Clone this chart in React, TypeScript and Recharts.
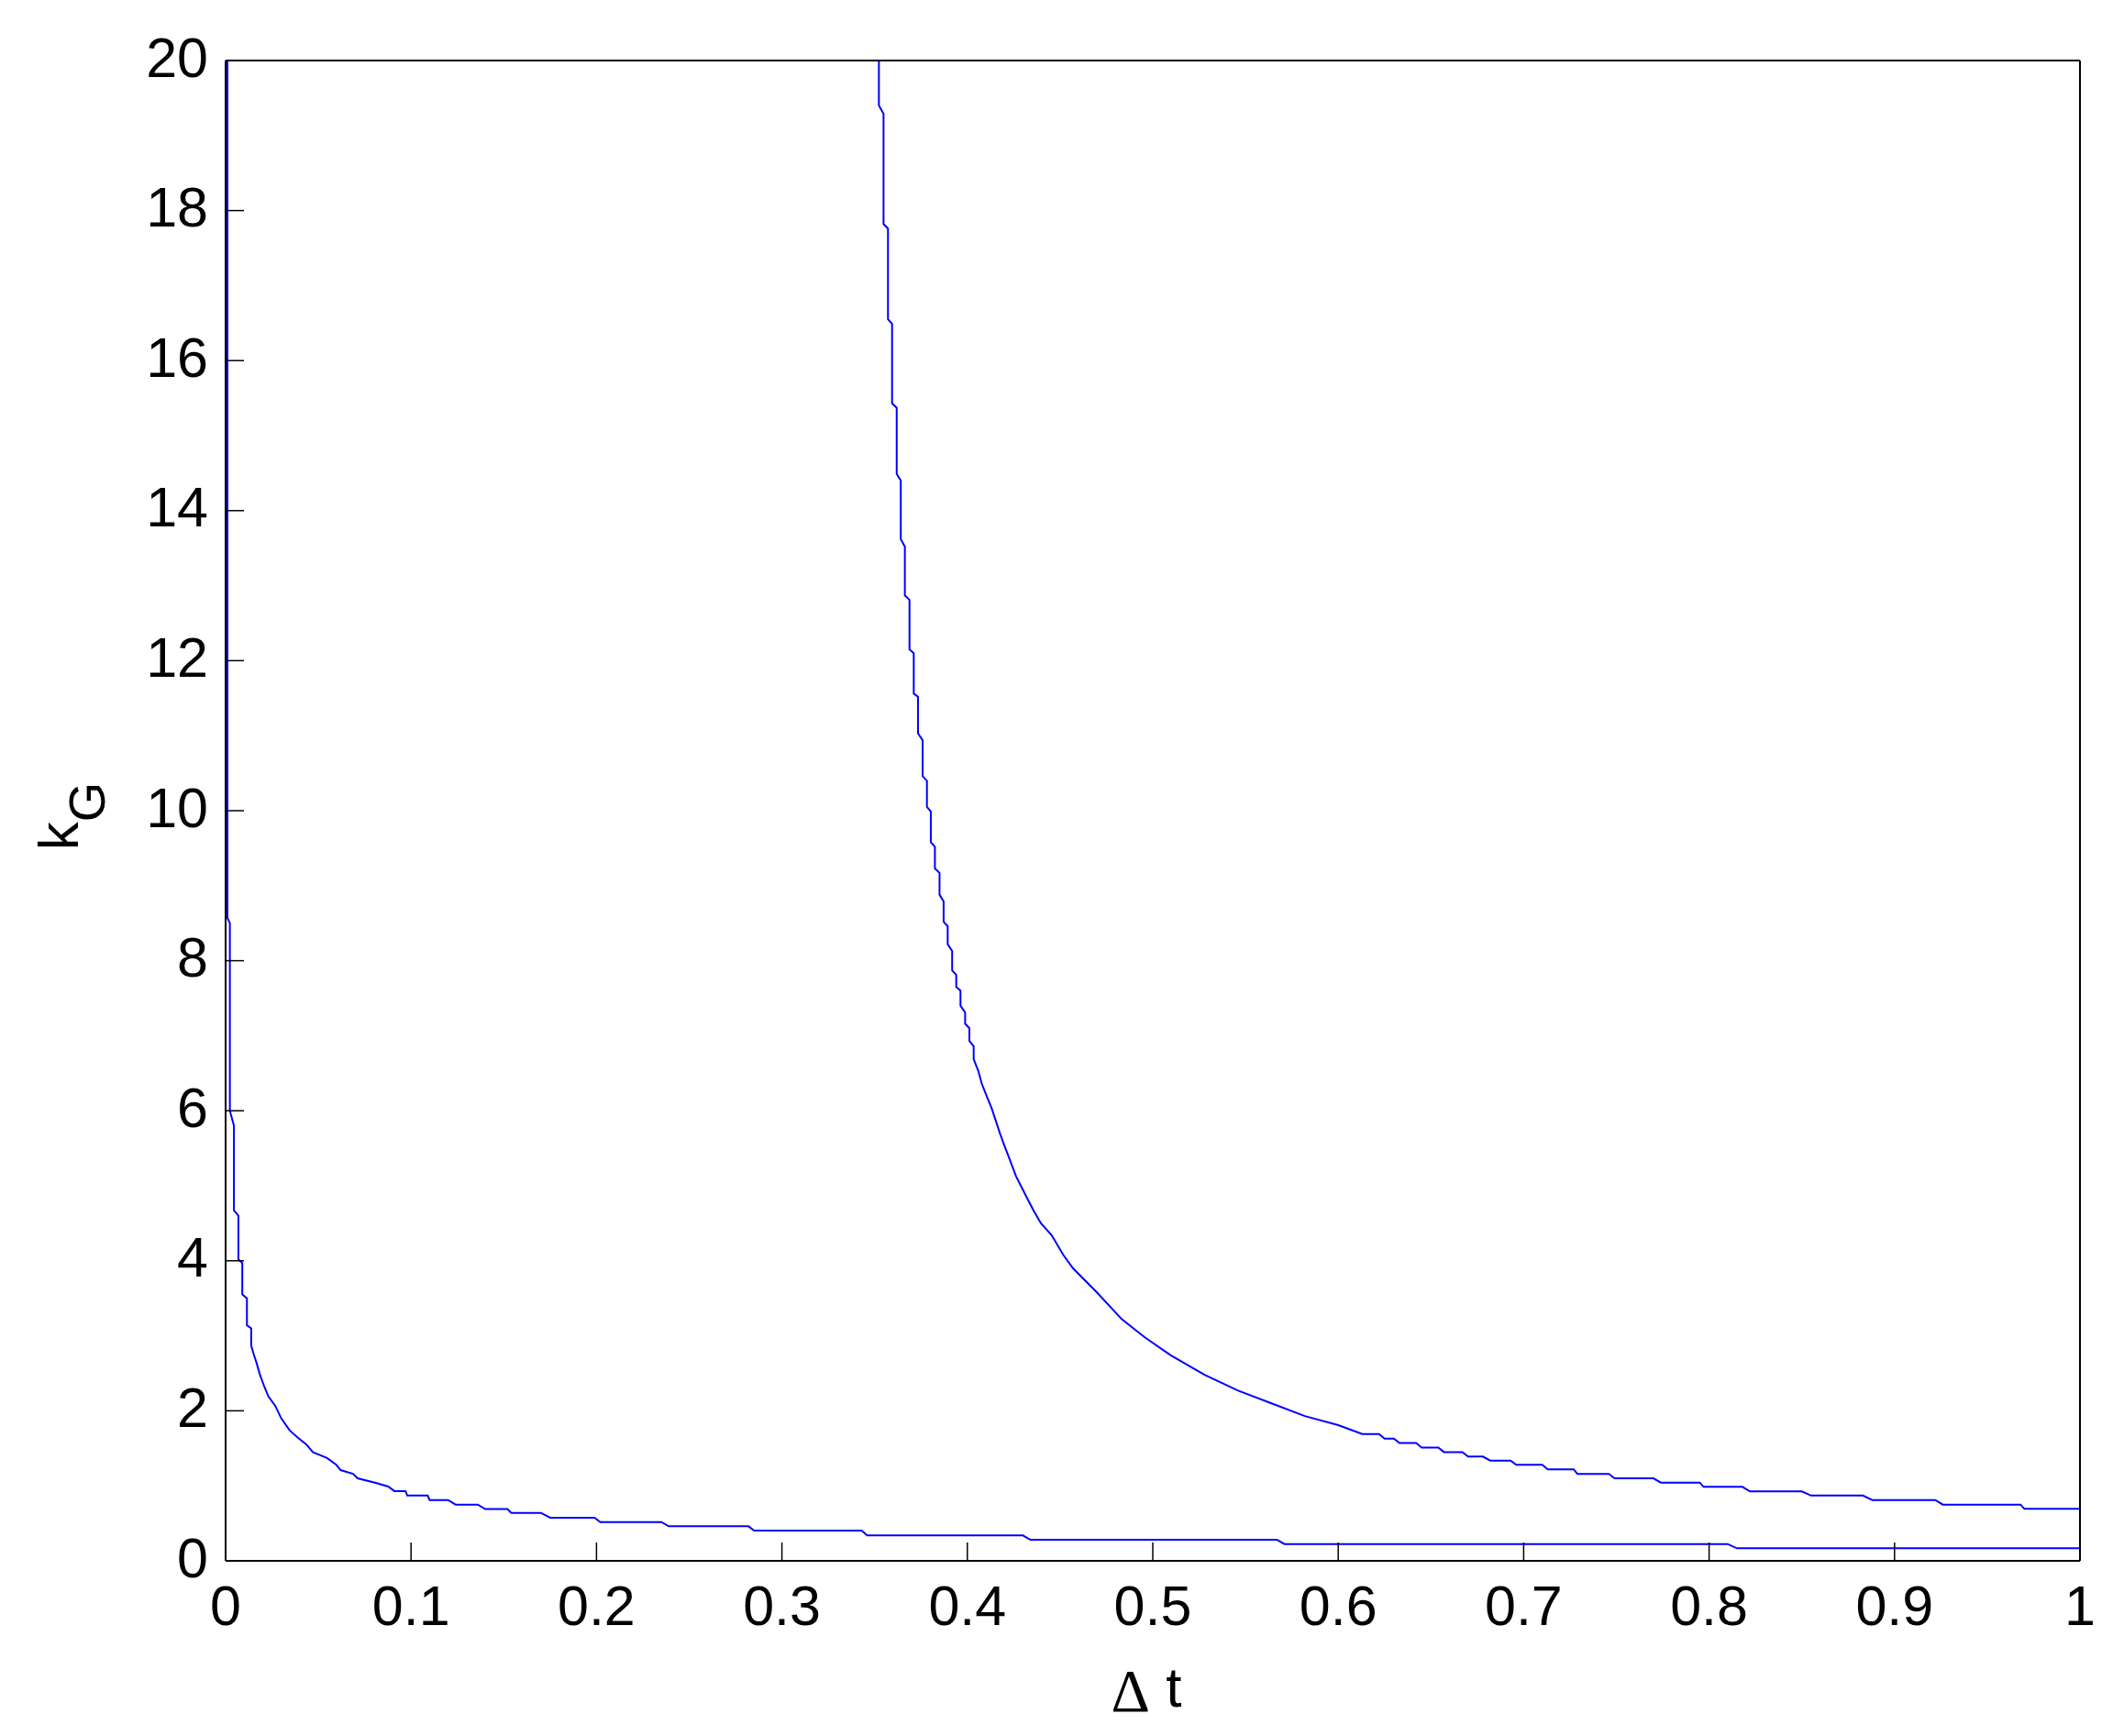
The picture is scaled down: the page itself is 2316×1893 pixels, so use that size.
import { LineChart, Line, XAxis, YAxis, Label } from "recharts";

// Δt values and k_G values
const lowerDt = [
  0.001, 0.001, 0.0023, 0.0023, 0.0045, 0.0045, 0.0069, 0.0069, 0.009, 0.009, 0.0115, 0.0115,
  0.0138, 0.0138, 0.0152, 0.0168, 0.0184, 0.0209, 0.0231, 0.0267, 0.03, 0.0345, 0.039,
  0.0436, 0.047, 0.0547, 0.0597, 0.062, 0.0687, 0.0712, 0.081, 0.0877, 0.091, 0.097,
  0.098, 0.109, 0.11, 0.12, 0.124, 0.136, 0.14, 0.152, 0.154, 0.17, 0.175, 0.199, 0.202,
  0.235, 0.239, 0.282, 0.285, 0.343, 0.346, 0.43, 0.434, 0.567, 0.571, 0.81, 0.815, 1.0,
];
const lowerK = [
  20, 8.57, 8.5, 6.0, 5.8, 4.67, 4.6, 4.02, 3.97, 3.55, 3.5, 3.14, 3.1, 2.87, 2.75, 2.63,
  2.49, 2.32, 2.19, 2.07, 1.9, 1.74, 1.64, 1.55, 1.45, 1.37, 1.28, 1.21, 1.16, 1.1, 1.04,
  0.99, 0.93, 0.93, 0.87, 0.87, 0.81, 0.81, 0.75, 0.75, 0.69, 0.69, 0.64, 0.64, 0.575,
  0.575, 0.517, 0.517, 0.46, 0.46, 0.403, 0.403, 0.338, 0.338, 0.28, 0.28, 0.224, 0.224,
  0.167, 0.167,
];

const upperDt = [
  0.3523, 0.3523, 0.3548, 0.3548, 0.3572, 0.3572, 0.3594, 0.3594, 0.3619, 0.3619, 0.3641,
  0.3641, 0.3663, 0.3663, 0.3688, 0.3688, 0.3711, 0.3711, 0.3734, 0.3734, 0.3759, 0.3759,
  0.3782, 0.3782, 0.3803, 0.3803, 0.3825, 0.3825, 0.385, 0.385, 0.3872, 0.3872, 0.3894,
  0.3894, 0.3918, 0.3918, 0.394, 0.394, 0.3963, 0.3963, 0.3988, 0.3988, 0.4011, 0.4011,
  0.4034, 0.4034, 0.4059, 0.4078, 0.4105, 0.413, 0.4153, 0.4174, 0.4199, 0.4224, 0.4262,
  0.4309, 0.4357, 0.4397, 0.4455, 0.4517, 0.457, 0.4702, 0.4833, 0.4957, 0.5097, 0.5279,
  0.546, 0.564, 0.582, 0.6, 0.613, 0.622, 0.625, 0.63, 0.633, 0.642, 0.645, 0.654, 0.657,
  0.667, 0.67, 0.678, 0.682, 0.693, 0.696, 0.71, 0.713, 0.727, 0.729, 0.746, 0.749, 0.77,
  0.774, 0.795, 0.797, 0.818, 0.822, 0.85, 0.855, 0.883, 0.888, 0.922, 0.926, 0.968, 0.97,
  1.0,
];
const upperK = [
  20, 19.4, 19.29, 17.82, 17.76, 16.55, 16.49, 15.43, 15.37, 14.49, 14.4, 13.62, 13.52,
  12.87, 12.81, 12.15, 12.1, 11.56, 11.52, 11.03, 10.94, 10.46, 10.4, 10.05, 9.99, 9.58,
  9.52, 9.23, 9.17, 8.88, 8.79, 8.52, 8.46, 8.22, 8.13, 7.87, 7.81, 7.65, 7.6, 7.4, 7.31,
  7.16, 7.1, 6.93, 6.86, 6.69, 6.53, 6.36, 6.19, 6.04, 5.87, 5.71, 5.54, 5.38, 5.13, 4.9,
  4.67, 4.5, 4.34, 4.08, 3.9, 3.57, 3.22, 2.98, 2.74, 2.48, 2.27, 2.1, 1.93, 1.81, 1.69,
  1.69, 1.63, 1.63, 1.57, 1.57, 1.51, 1.51, 1.45, 1.45, 1.39, 1.39, 1.336, 1.336, 1.28,
  1.28, 1.22, 1.22, 1.158, 1.158, 1.1, 1.1, 1.043, 1.043, 0.986, 0.986, 0.925, 0.925, 0.87,
  0.87, 0.81, 0.81, 0.75, 0.75, 0.693, 0.693,
];

const xTicks = [0, 0.1, 0.2, 0.3, 0.4, 0.5, 0.6, 0.7, 0.8, 0.9, 1];
const yTicks = [0, 2, 4, 6, 8, 10, 12, 14, 16, 18, 20];

const lowerData = lowerDt.map((x, i) => ({ x, y: lowerK[i] }));
const upperData = upperDt.map((x, i) => ({ x, y: upperK[i] }));

const FONT = "'Liberation Sans', Arial, sans-serif";
const tickStyle = { fill: "#000", fontSize: 61, fontFamily: FONT };
const axisLine = { stroke: "#000", strokeWidth: 2 };
const tickLine = { stroke: "#000", strokeWidth: 1.5 };
const blank = () => "";

function XTitle(props: any) {
  const { x, y, width } = props.viewBox;
  return (
    <text x={x + width / 2 - 7} y={y + 159} textAnchor="middle" fill="#000">
      <tspan fontFamily="'Liberation Serif', serif" fontSize={66} dy={5}>Δ</tspan>
      <tspan fontFamily={FONT} fontSize={62} dy={-5}> t</tspan>
    </text>
  );
}

function YTitle() {
  const cx = 77;
  const cy = 882;
  return (
    <text x={cx} y={cy} textAnchor="middle" fill="#000" transform={`rotate(-90 ${cx} ${cy})`}>
      <tspan fontFamily={FONT} fontSize={62}>k</tspan>
      <tspan fontFamily={FONT} fontSize={56} dy={29}>G</tspan>
    </text>
  );
}

export default function App() {
  return (
    <div style={{ width: 2300, height: 1877, background: "#fff" }}>
      <LineChart width={2300} height={1877} margin={{ top: 0, right: 0, bottom: 0, left: 0 }}>
        <XAxis
          xAxisId="top"
          orientation="top"
          type="number"
          domain={[0, 1]}
          ticks={xTicks}
          height={58}
          tickSize={-20}
          tickFormatter={blank}
          axisLine={axisLine}
          tickLine={tickLine}
        />
        <XAxis
          dataKey="x"
          type="number"
          domain={[0, 1]}
          ticks={xTicks}
          height={183}
          tickSize={-20}
          tickMargin={47}
          tick={tickStyle}
          axisLine={axisLine}
          tickLine={tickLine}
        >
          <Label content={<XTitle />} />
        </XAxis>
        <YAxis
          type="number"
          domain={[0, 20]}
          ticks={yTicks}
          width={238}
          tickSize={-20}
          tickMargin={39}
          tick={{ ...tickStyle, dy: -4 }}
          axisLine={axisLine}
          tickLine={tickLine}
        >
          <Label content={<YTitle />} />
        </YAxis>
        <YAxis
          yAxisId="right"
          orientation="right"
          type="number"
          domain={[0, 20]}
          ticks={yTicks}
          width={40}
          tickSize={-20}
          tickFormatter={blank}
          axisLine={axisLine}
          tickLine={tickLine}
        />
        <Line
          data={lowerData}
          dataKey="y"
          type="linear"
          stroke="#0000ff"
          strokeWidth={2}
          dot={false}
          activeDot={false}
          isAnimationActive={false}
        />
        <Line
          data={upperData}
          dataKey="y"
          type="linear"
          stroke="#0000ff"
          strokeWidth={2}
          dot={false}
          activeDot={false}
          isAnimationActive={false}
        />
      </LineChart>
    </div>
  );
}
